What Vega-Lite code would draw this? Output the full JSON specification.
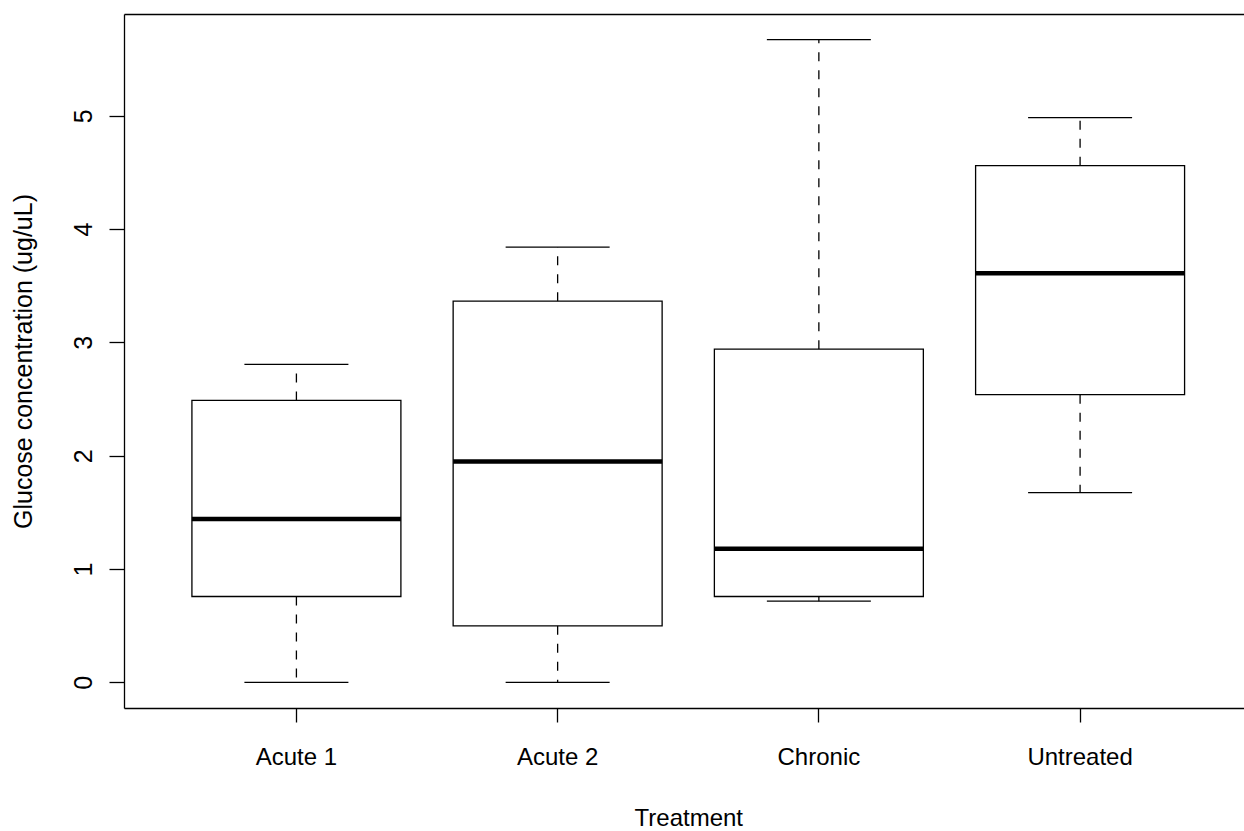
{
  "$schema": "https://vega.github.io/schema/vega-lite/v6.json",
  "autosize": {"type": "none"},
  "padding": {"left": 124, "top": 14, "right": 0, "bottom": 123},
  "width": 1120,
  "height": 694,
  "background": "white",
  "config": {
    "view": {"stroke": null, "fill": "white"},
    "font": "Liberation Sans, Arial, sans-serif",
    "axis": {
      "grid": false,
      "domainColor": "black",
      "domainWidth": 1.3,
      "tickColor": "black",
      "tickWidth": 1.3,
      "labelColor": "black",
      "titleColor": "black",
      "labelFont": "Liberation Sans, Arial, sans-serif",
      "titleFont": "Liberation Sans, Arial, sans-serif",
      "titleFontWeight": "normal"
    }
  },
  "data": {
    "values": [
      {"treatment": "Acute 1", "low": 0.0, "q1": 0.757, "median": 1.442, "q3": 2.488, "high": 2.806},
      {"treatment": "Acute 2", "low": 0.0, "q1": 0.498, "median": 1.948, "q3": 3.364, "high": 3.842},
      {"treatment": "Chronic", "low": 0.716, "q1": 0.757, "median": 1.179, "q3": 2.94, "high": 5.672},
      {"treatment": "Untreated", "low": 1.675, "q1": 2.539, "median": 3.611, "q3": 4.56, "high": 4.984}
    ]
  },
  "resolve": {"axis": {"x": "independent"}},
  "layer": [
    {
      "mark": {"type": "rule", "color": "black", "strokeWidth": 1.3, "strokeDash": [9, 9]},
      "encoding": {
        "x": {
          "field": "treatment",
          "type": "nominal",
          "sort": null,
          "scale": {"paddingInner": 0.2, "paddingOuter": 0.26, "range": [0, 1128.5]},
          "axis": {
            "title": "Treatment",
            "orient": "bottom",
            "domain": true,
            "labelAngle": 0,
            "labelFontSize": 24,
            "titleFontSize": 24,
            "tickSize": 14,
            "labelPadding": 23,
            "titlePadding": 37
          }
        },
        "y": {
          "field": "q1",
          "type": "quantitative",
          "scale": {"domain": [-0.227, 5.899], "nice": false, "zero": false},
          "axis": {
            "title": "Glucose concentration (ug/uL)",
            "domain": true,
            "values": [0, 1, 2, 3, 4, 5],
            "format": "d",
            "labelFontSize": 25,
            "titleFontSize": 25,
            "tickSize": 15,
            "labelAngle": -90,
            "labelAlign": "center",
            "labelBaseline": "alphabetic",
            "labelPadding": 18,
            "titleAngle": -90,
            "titleBaseline": "alphabetic",
            "titlePadding": 40
          }
        },
        "y2": {"field": "low"}
      }
    },
    {
      "mark": {"type": "rule", "color": "black", "strokeWidth": 1.3, "strokeDash": [9, 9]},
      "encoding": {
        "x": {
          "field": "treatment",
          "type": "nominal",
          "sort": null,
          "axis": {"orient": "top", "domain": true, "ticks": false, "labels": false, "title": null}
        },
        "y": {"field": "q3", "type": "quantitative"},
        "y2": {"field": "high"}
      }
    },
    {
      "mark": {"type": "tick", "color": "black", "thickness": 1.3, "size": 104, "opacity": 1},
      "encoding": {
        "x": {"field": "treatment", "type": "nominal", "sort": null, "axis": null},
        "y": {"field": "low", "type": "quantitative"}
      }
    },
    {
      "mark": {"type": "tick", "color": "black", "thickness": 1.3, "size": 104, "opacity": 1},
      "encoding": {
        "x": {"field": "treatment", "type": "nominal", "sort": null, "axis": null},
        "y": {"field": "high", "type": "quantitative"}
      }
    },
    {
      "mark": {"type": "bar", "fill": "white", "stroke": "black", "strokeWidth": 1.3},
      "encoding": {
        "x": {"field": "treatment", "type": "nominal", "sort": null, "axis": null},
        "y": {"field": "q1", "type": "quantitative"},
        "y2": {"field": "q3"}
      }
    },
    {
      "mark": {"type": "tick", "color": "black", "thickness": 4.5, "size": 209, "opacity": 1},
      "encoding": {
        "x": {"field": "treatment", "type": "nominal", "sort": null, "axis": null},
        "y": {"field": "median", "type": "quantitative"}
      }
    }
  ]
}
